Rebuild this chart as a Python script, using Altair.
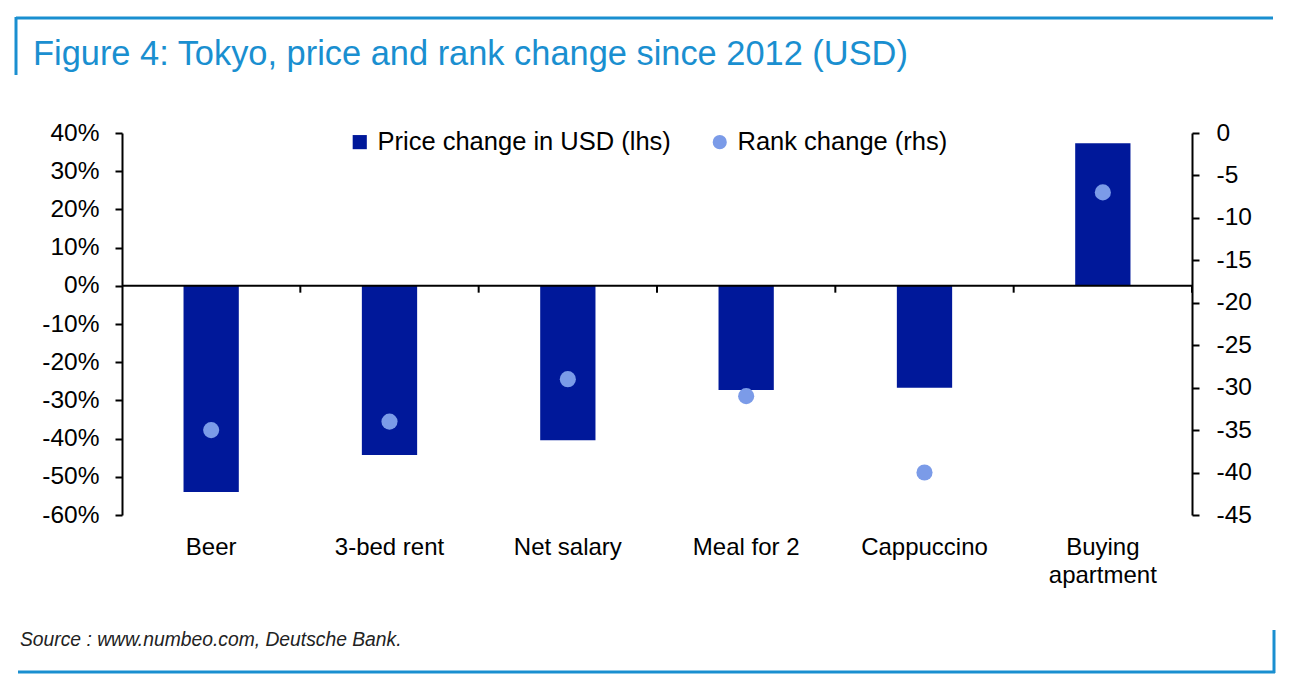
import altair as alt
import pandas as pd

# ---------------- data ----------------
categories = ["Beer", "3-bed rent", "Net salary", "Meal for 2", "Cappuccino", "Buying apartment"]
price_change = [-0.540, -0.443, -0.404, -0.273, -0.267, 0.373]   # lhs, fraction
rank_change = [-35, -34, -29, -31, -40, -7]                       # rhs
left_ticks = [0.4, 0.3, 0.2, 0.1, 0.0, -0.1, -0.2, -0.3, -0.4, -0.5, -0.6]
right_ticks = [0, -5, -10, -15, -20, -25, -30, -35, -40, -45]
series_names = ["Price change in USD (lhs)", "Rank change (rhs)"]
title_text = "Figure 4: Tokyo, price and rank change since 2012 (USD)"
source_text = "Source : www.numbeo.com, Deutsche Bank."

# ---------------- style ----------------
W, H = 1070, 382
FONT = "Liberation Sans"
BAR = "#00189A"
DOT = "#7B9BE8"
FRAME = "#1A8FD0"
FS = 24
MINUS_FIX = "replace(datum.label, '\u2212', '-')"

bars_df = pd.DataFrame({"category": categories, "value": price_change, "series": series_names[0]})
dots_df = pd.DataFrame({"category": categories, "value": rank_change, "series": series_names[1]})
one = pd.DataFrame({"k": [0]})

x_scale = alt.Scale(type="band", domain=categories, paddingInner=0, paddingOuter=0)
color_scale = alt.Scale(domain=series_names, range=[BAR, DOT])
shape_scale = alt.Scale(domain=series_names, range=["square", "circle"])
yl_scale = alt.Scale(domain=[-0.6, 0.4], nice=False, zero=False)
yr_scale = alt.Scale(domain=[-45, 0], nice=False, zero=False)

legend = alt.Legend(
    title=None, orient="none", legendX=225, legendY=-4, direction="horizontal",
    labelFont=FONT, labelFontSize=25.5, labelColor="black", labelLimit=0, symbolSize=200,
    symbolStrokeWidth=0, symbolOpacity=1, columnPadding=36, labelOffset=5,
)

x_axis = alt.Axis(
    title=None, domain=False, ticks=False, labelAngle=0, labelFont=FONT,
    labelFontSize=FS, labelColor="black", labelPadding=20, labelLimit=0,
    labelLineHeight=28,
    labelExpr="length(datum.label) > 12 ? split(datum.label, ' ') : datum.label",
)

left_axis = alt.Axis(
    orient="left", values=left_ticks, format=".0%", title=None, grid=False,
    domainColor="black", domainWidth=2, tickColor="black", tickWidth=2, tickSize=7,
    labelPadding=16, labelFont=FONT, labelFontSize=24.5, labelColor="black",
    labelFlush=False, labelOverlap=False, labelExpr=MINUS_FIX,
)
right_axis = alt.Axis(
    orient="right", values=right_ticks, format="d", title=None, grid=False,
    domainColor="black", domainWidth=2, tickColor="black", tickWidth=2, tickSize=7,
    labelPadding=17, labelFont=FONT, labelFontSize=24.5, labelColor="black",
    labelFlush=False, labelOverlap=False, labelExpr=MINUS_FIX,
)

x_enc = alt.X("category:N", scale=x_scale, sort=categories, axis=x_axis)

bars = alt.Chart(bars_df).mark_bar(width={"band": 0.31}).encode(
    x=x_enc,
    y=alt.Y("value:Q", scale=yl_scale, axis=left_axis),
    color=alt.Color("series:N", scale=color_scale, legend=legend),
)

zero_line = alt.Chart(one).mark_rule(color="black", strokeWidth=2).encode(
    y=alt.Y(datum=0, scale=yl_scale, axis=left_axis),
)

sep_ticks = alt.Chart(bars_df).mark_rule(color="black", strokeWidth=2).encode(
    x=alt.X("category:N", scale=x_scale, sort=categories, bandPosition=1, axis=x_axis),
    y=alt.Y(datum=0, scale=yl_scale, axis=left_axis),
    y2=alt.Y2(datum=-0.018),
)

left_part = alt.layer(bars, zero_line, sep_ticks)

dots = alt.Chart(dots_df).mark_point(filled=True, size=260, opacity=1).encode(
    x=x_enc,
    y=alt.Y("value:Q", scale=yr_scale, axis=right_axis),
    color=alt.Color("series:N", scale=color_scale, legend=legend),
    shape=alt.Shape("series:N", scale=shape_scale, legend=legend),
)

data_part = alt.layer(left_part, dots).resolve_scale(y="independent")

# decorative frame (pixel positions relative to plot origin)
def hline(x1, x2, y):
    return alt.Chart(one).mark_rule(color=FRAME, strokeWidth=3).encode(
        x=alt.value(x1), x2=alt.value(x2), y=alt.value(y))

def vline(x, y1, y2):
    return alt.Chart(one).mark_rule(color=FRAME, strokeWidth=3).encode(
        x=alt.value(x), y=alt.value(y1), y2=alt.value(y2))

frame = [
    hline(-106, 1151, -115),
    vline(-106, -116, -58),
    hline(-104, 1153, 539),
    vline(1152, 497, 540),
]

title = alt.Chart(one).mark_text(
    text=title_text, font=FONT, fontSize=34.4, color=FRAME, align="left", baseline="alphabetic",
).encode(x=alt.value(-89), y=alt.value(-68))

source = alt.Chart(one).mark_text(
    text=source_text, font=FONT, fontSize=19.3, fontStyle="italic", color="#222222",
    align="left", baseline="alphabetic",
).encode(x=alt.value(-102), y=alt.value(513))

chart = alt.layer(
    data_part, title, source, *frame
).properties(
    width=W, height=H,
    autosize=alt.AutoSizeParams(type="none"),
    padding={"left": 122, "top": 133, "right": 105, "bottom": 170},
).configure_view(stroke=None)

chart.save("out.html", embed_options={"renderer": "svg", "actions": False})
